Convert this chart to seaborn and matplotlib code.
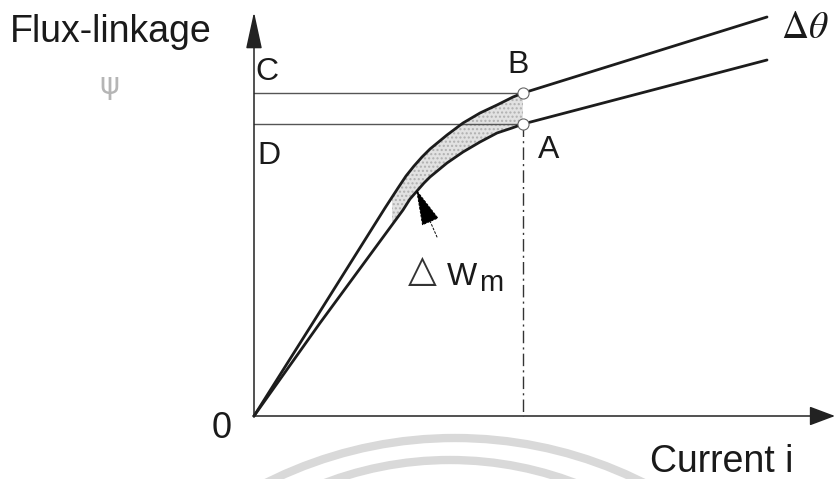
import numpy as np
import pandas as pd
import matplotlib
matplotlib.use("Agg")
import matplotlib.pyplot as plt
import seaborn as sns
from matplotlib.patches import Circle

# Magnetisation curves (flux-linkage vs current) for rotor positions theta and theta + d_theta
current_shifted = [0, 0.60, 1.31, 1.44, 1.52, 1.60, 1.68, 1.76, 1.93, 2.09, 2.26, 2.43, 2.59, 2.69, 5.13]
flux_shifted = [0, 0.95, 2.08, 2.28, 2.40, 2.50, 2.59, 2.67, 2.81, 2.93, 3.03, 3.11, 3.19, 3.23, 3.99]
current_base = [0, 0.66, 1.49, 1.56, 1.63, 1.70, 1.76, 1.93, 2.09, 2.26, 2.43, 2.58, 2.69, 5.13]
flux_base = [0, 0.93, 2.06, 2.17, 2.25, 2.33, 2.39, 2.53, 2.64, 2.74, 2.83, 2.88, 2.92, 3.56]

# Operating points B (shifted curve) and A (base curve) at the same current
point_B = (2.69, 3.23)
point_A = (2.69, 2.92)
shade_start = 1.38

sns.set_theme(style="white")
plt.rcParams["font.family"] = ["Liberation Sans", "DejaVu Sans"]
plt.rcParams["mathtext.fontset"] = "stix"

df = pd.concat([
    pd.DataFrame({"i": current_shifted, "psi": flux_shifted, "pos": "shifted"}),
    pd.DataFrame({"i": current_base, "psi": flux_base, "pos": "base"}),
])

fig = plt.figure(figsize=(8.35, 4.79), dpi=100)
ax = fig.add_axes([0, 0, 1, 1])
ox, oy = 254, 416
ax.set_xlim(-ox / 100, (835 - ox) / 100)
ax.set_ylim(-(479 - oy) / 100, oy / 100)
ax.axis("off")

# faint circular stamp in the background
for cx, cy, r in [(2.01, -4.42, 4.2), (1.96, -3.96, 3.52)]:
    ax.add_patch(Circle((cx, cy), r, fill=False, ec="#d9d9d9", lw=6, zorder=0))

# shaded energy increment between the two curves
xs = np.linspace(shade_start, point_B[0], 200)
ax.fill_between(xs, np.interp(xs, current_base, flux_base),
                np.interp(xs, current_shifted, flux_shifted),
                facecolor="#e2e2e2", hatch="....", edgecolor="#b0b0b0", lw=0, zorder=1)

sns.lineplot(data=df, x="i", y="psi", hue="pos", palette=["#1c1c1c", "#1c1c1c"],
             sort=False, estimator=None, legend=False, lw=2.0, ax=ax, zorder=3)

# axes with arrow heads
ax.annotate("", xy=(0, 4.04), xytext=(0, -0.01),
            arrowprops=dict(arrowstyle="-|>,head_length=2.3,head_width=0.5",
                            lw=1.1, color="#222222", shrinkA=0, shrinkB=0, mutation_scale=10))
ax.annotate("", xy=(5.81, 0), xytext=(-0.01, 0),
            arrowprops=dict(arrowstyle="-|>,head_length=1.6,head_width=0.6",
                            lw=1.1, color="#222222", shrinkA=0, shrinkB=0, mutation_scale=10))

# projection lines to the axes
ax.plot([0, point_B[0]], [point_B[1], point_B[1]], color="#555555", lw=1.0, zorder=2)
ax.plot([0, point_A[0]], [point_A[1], point_A[1]], color="#555555", lw=1.0, zorder=2)
ax.plot([point_A[0], point_A[0]], [point_A[1], 0], color="#333333", lw=1.0,
        linestyle=(0, (9, 3, 1.5, 3)), zorder=2)

# operating points
ax.plot([point_B[0], point_A[0]], [point_B[1], point_A[1]], linestyle="none", marker="o",
        ms=8, mfc="white", mec="#666666", mew=0.8, zorder=4)

# delta W_m pointer
ax.annotate("", xy=(1.62, 2.27), xytext=(1.83, 1.79),
            arrowprops=dict(arrowstyle="-|>,head_length=2.4,head_width=0.6",
                            lw=0.7, color="#777777", fc="black", ec="black",
                            linestyle=(0, (2, 2)), shrinkA=0, shrinkB=0, mutation_scale=10),
            zorder=5)

tk = dict(color="#1a1a1a")
ax.text(-2.44, 3.74, "Flux-linkage", fontsize=27, ha="left", va="baseline", **tk)
ax.text(-1.45, 3.30, "ψ", fontsize=22, ha="center", va="center", color="#b5b5b5",
        family="DejaVu Sans")
ax.text(0.13, 3.44, "C", fontsize=23, ha="center", va="center", **tk)
ax.text(0.15, 2.60, "D", fontsize=23, ha="center", va="center", **tk)
ax.text(2.64, 3.51, "B", fontsize=23, ha="center", va="center", **tk)
ax.text(2.95, 2.66, "A", fontsize=23, ha="center", va="center", **tk)
ax.text(-0.32, -0.12, "0", fontsize=26, ha="center", va="center", **tk)
ax.text(3.96, -0.56, "Current i", fontsize=27, ha="left", va="baseline", **tk)
ax.text(5.51, 3.88, r"$\Delta\theta$", fontsize=27, ha="center", va="center", **tk)
ax.text(1.68, 1.45, "△", fontsize=27, ha="center", va="center", color="#333333",
        family="DejaVu Sans")
ax.text(1.93, 1.31, "W", fontsize=23, ha="left", va="baseline", **tk)
ax.text(2.25, 1.25, "m", fontsize=21, ha="left", va="baseline", **tk)

fig.savefig("out.png", dpi=100, facecolor="white")
